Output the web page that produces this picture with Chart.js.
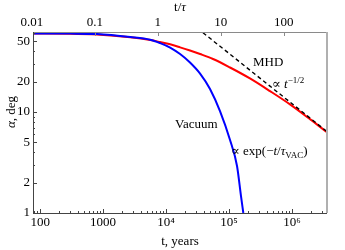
<!DOCTYPE html>
<html>
<head>
<meta charset="utf-8">
<script src="https://cdn.jsdelivr.net/npm/chart.js@4.4.1/dist/chart.umd.min.js"></script>
<style>
html, body { margin: 0; padding: 0; background: #fff; }
</style>
</head>
<body>
<canvas id="chart" width="345" height="250"></canvas>
<script>
// obliquity angle vs age
var tVac = [77, 300, 800, 2700, 5600, 8000, 11600, 16700, 24000, 34700, 49900, 71900, 103800, 134000, 155000, 168700];
var alphaVac = [60, 59.8, 59.2, 55.3, 52.0, 48.2, 43.5, 37.5, 30.9, 24.0, 16.9, 10.2, 5.28, 2.92, 1.47, 1.0];

var tMhd = [77, 300, 800, 2700, 5600, 8000, 11600, 16700, 24000, 34700, 55700, 103800, 215000, 448000, 930000, 1930000, 3600000];
var alphaMhd = [60, 59.7, 58.5, 54.9, 51.6, 49.3, 46.8, 43.7, 40.6, 37.5, 33.5, 27.6, 21.5, 16.1, 11.9, 8.5, 6.3];

var tFit = [38600, 3600000];
var alphaFit = [61, 6.4];

var tau = 7400;
var tMin = 77, tMax = 3600000;
var alphaMin = 1, alphaMax = 62;

var bottomTicks = [100, 1000, 1e4, 1e5, 1e6];
var bottomLabels = ['100', '1000', '10\u2074', '10\u2075', '10\u2076'];
var topTicks = [0.01, 0.1, 1, 10, 100];
var topLabels = ['0.01', '0.1', '1', '10', '100'];
var leftTicks = [1, 2, 5, 10, 20, 50];
var leftLabels = ['1', '2', '5', '10', '20', '50'];

var serif = '"Liberation Serif", "DejaVu Serif", serif';
Chart.defaults.font.family = serif;
Chart.defaults.font.size = 13;
Chart.defaults.color = '#000';

function pts(xs, ys) {
    return xs.map((x, i) => ({ x: x, y: ys[i] }));
}

function runs(ctx, x, y, parts) {
    parts.forEach(p => {
        ctx.font = (p.italic ? 'italic ' : '') + (p.size || 13) + 'px ' + serif;
        ctx.fillText(p.text, x, y + (p.dy || 0));
        x += ctx.measureText(p.text).width;
    });
}

function minors(lo, hi) {
    var out = [];
    for (var d = 1e-3; d < hi; d *= 10) {
        for (var k = 2; k <= 9; k++) {
            var v = k * d;
            if (v > lo && v < hi) out.push(v);
        }
    }
    return out;
}

var decor = {
    id: 'decor',
    afterDatasetsDraw(chart) {
        var ctx = chart.ctx, a = chart.chartArea;
        var sx = chart.scales.x, sy = chart.scales.y, sx2 = chart.scales.x2;
        ctx.save();

        // frame
        ctx.lineWidth = 1;
        ctx.strokeStyle = '#8a8a8a';
        ctx.beginPath();
        ctx.moveTo(a.left, a.top + 0.5);
        ctx.lineTo(a.right, a.top + 0.5);
        ctx.stroke();
        ctx.lineWidth = 2;
        ctx.strokeStyle = '#b0b0b0';
        ctx.beginPath();
        ctx.moveTo(a.right, a.top);
        ctx.lineTo(a.right, a.bottom);
        ctx.stroke();
        ctx.lineWidth = 1;
        ctx.strokeStyle = '#444';
        ctx.beginPath();
        ctx.moveTo(a.left + 0.5, a.top);
        ctx.lineTo(a.left + 0.5, a.bottom + 0.5);
        ctx.lineTo(a.right, a.bottom + 0.5);
        ctx.stroke();

        // inward ticks
        ctx.strokeStyle = '#444';
        ctx.beginPath();
        bottomTicks.forEach(v => {
            var px = Math.round(sx.getPixelForValue(v)) + 0.5;
            ctx.moveTo(px, a.bottom); ctx.lineTo(px, a.bottom - 4);
        });
        minors(tMin, tMax).forEach(v => {
            var px = Math.round(sx.getPixelForValue(v)) + 0.5;
            ctx.moveTo(px, a.bottom); ctx.lineTo(px, a.bottom - 2);
        });
        leftTicks.forEach(v => {
            var py = Math.round(sy.getPixelForValue(v)) + 0.5;
            ctx.moveTo(a.left, py); ctx.lineTo(a.left + 4, py);
        });
        minors(alphaMin, alphaMax).forEach(v => {
            if (leftTicks.indexOf(v) >= 0) return;
            var py = Math.round(sy.getPixelForValue(v)) + 0.5;
            ctx.moveTo(a.left, py); ctx.lineTo(a.left + 2, py);
        });
        ctx.stroke();
        ctx.strokeStyle = '#8a8a8a';
        ctx.beginPath();
        topTicks.forEach(v => {
            var px = Math.round(sx2.getPixelForValue(v)) + 0.5;
            if (px < a.left + 2) return;
            ctx.moveTo(px, a.top); ctx.lineTo(px, a.top + 4);
        });
        ctx.stroke();

        // axis titles
        ctx.fillStyle = '#000';
        ctx.textBaseline = 'alphabetic';
        ctx.textAlign = 'left';
        ctx.font = '13px ' + serif;
        var w1 = ctx.measureText('t/').width;
        ctx.font = 'italic 13px ' + serif;
        var w2 = ctx.measureText('\u03c4').width;
        runs(ctx, 180 - (w1 + w2) / 2, 11, [{ text: 't/' }, { text: '\u03c4', italic: true }]);

        ctx.font = '13px ' + serif;
        ctx.textAlign = 'center';
        ctx.fillText('t, years', 180, 245);

        ctx.save();
        ctx.translate(15, 112);
        ctx.rotate(-Math.PI / 2);
        ctx.textAlign = 'left';
        ctx.font = 'italic 13px ' + serif;
        var wa = ctx.measureText('\u03b1').width;
        ctx.font = '13px ' + serif;
        var wd = ctx.measureText(', deg').width;
        runs(ctx, -(wa + wd) / 2, 0, [{ text: '\u03b1', italic: true }, { text: ', deg' }]);
        ctx.restore();

        // curve labels
        ctx.textAlign = 'left';
        runs(ctx, 253, 66, [{ text: 'MHD' }]);
        runs(ctx, 272, 88, [{ text: '\u221d ' }, { text: 't', italic: true }, { text: '\u22121/2', size: 9, dy: -5 }]);
        runs(ctx, 175, 128, [{ text: 'Vacuum' }]);
        runs(ctx, 231, 155, [
            { text: '\u221d exp(\u2212' }, { text: 't', italic: true }, { text: '/' },
            { text: '\u03c4', italic: true }, { text: 'VAC', size: 9, dy: 3 }, { text: ')' }
        ]);
        ctx.restore();
    }
};

new Chart(document.getElementById('chart'), {
    type: 'line',
    data: {
        datasets: [{
            label: 'fit',
            data: pts(tFit, alphaFit),
            borderColor: '#000',
            borderWidth: 1.4,
            borderDash: [4, 3],
            pointRadius: 0,
            clip: 0
        }, {
            label: 'Vacuum',
            data: pts(tVac, alphaVac),
            borderColor: '#0000ff',
            borderWidth: 2,
            pointRadius: 0,
            cubicInterpolationMode: 'monotone',
            clip: 0
        }, {
            label: 'MHD',
            data: pts(tMhd, alphaMhd),
            borderColor: '#ff0000',
            borderWidth: 2,
            pointRadius: 0,
            cubicInterpolationMode: 'monotone',
            clip: 0
        }]
    },
    options: {
        responsive: false,
        animation: false,
        devicePixelRatio: 1,
        layout: { padding: { left: 0, right: 18, top: 0, bottom: 0 } },
        plugins: { legend: { display: false }, tooltip: { enabled: false } },
        scales: {
            x: {
                type: 'logarithmic', position: 'bottom', min: tMin, max: tMax,
                grid: { display: false, drawTicks: false }, border: { display: false },
                afterBuildTicks: s => { s.ticks = bottomTicks.map(v => ({ value: v })); },
                ticks: { autoSkip: false, maxRotation: 0, padding: 2, callback: (v, i) => bottomLabels[i] },
                afterFit: s => { s.height = 37; }
            },
            x2: {
                type: 'logarithmic', position: 'top', min: tMin / tau, max: tMax / tau,
                grid: { display: false, drawTicks: false }, border: { display: false },
                afterBuildTicks: s => { s.ticks = topTicks.map(v => ({ value: v })); },
                ticks: { autoSkip: false, maxRotation: 0, padding: 2, callback: (v, i) => topLabels[i] },
                afterFit: s => { s.height = 32; }
            },
            y: {
                type: 'logarithmic', min: alphaMin, max: alphaMax,
                grid: { display: false, drawTicks: false }, border: { display: false },
                afterBuildTicks: s => { s.ticks = leftTicks.map(v => ({ value: v })); },
                ticks: { autoSkip: false, padding: 3, callback: (v, i) => leftLabels[i] },
                afterFit: s => { s.width = 33; }
            }
        }
    },
    plugins: [decor]
});
</script>
</body>
</html>
